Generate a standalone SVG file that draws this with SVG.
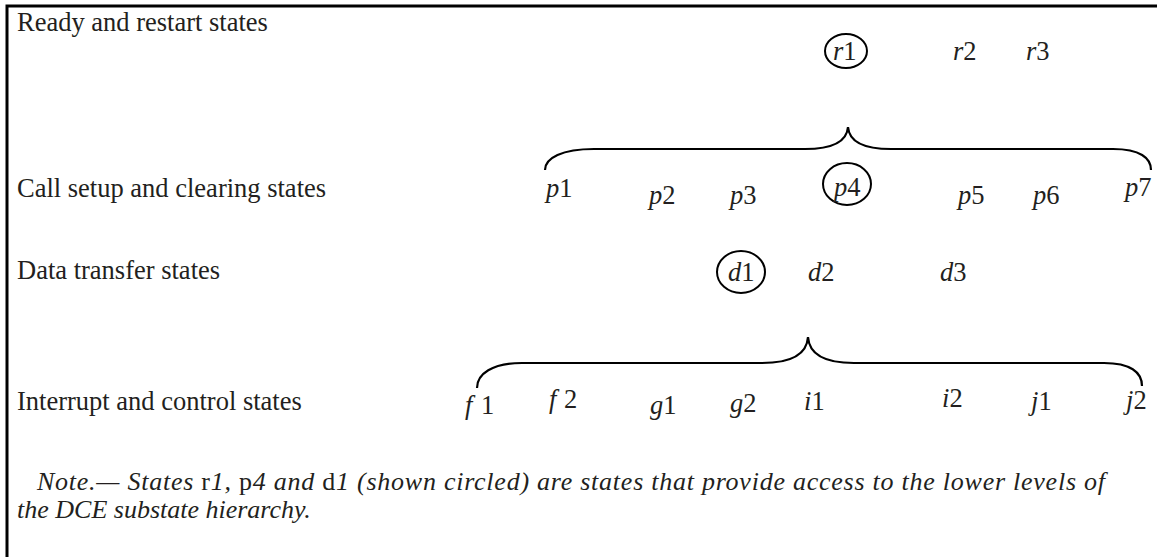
<svg xmlns="http://www.w3.org/2000/svg" width="1157" height="557" viewBox="0 0 1157 557">
<style>
text{font-family:"Liberation Serif","Times New Roman",serif;font-size:26.5px;fill:#231f20}
.i{font-style:italic}
.u{font-style:normal}
.note{font-style:italic;font-size:26px}
.ring{fill:none;stroke:#000;stroke-width:2}
.brace{fill:none;stroke:#000;stroke-width:2.2}
.border{fill:none;stroke:#000;stroke-width:3}
</style>
<rect width="1157" height="557" fill="#fff"/>
<path class="border" d="M7,557 V6 H1157"/>
<g id="row-labels">
<text x="17" y="31">Ready and restart states</text>
<text x="17" y="197">Call setup and clearing states</text>
<text x="17" y="279">Data transfer states</text>
<text x="17" y="410">Interrupt and control states</text>
</g>
<g id="ready-states">
<g id="r1"><ellipse class="ring" cx="846" cy="51" rx="21" ry="17"/><text x="833" y="60"><tspan class="i">r</tspan>1</text></g>
<g id="r2"><text x="953" y="60"><tspan class="i">r</tspan>2</text></g>
<g id="r3"><text x="1026" y="60"><tspan class="i">r</tspan>3</text></g>
</g>
<g id="call-states">
<g id="p1"><text x="546" y="197"><tspan class="i">p</tspan>1</text></g>
<g id="p2"><text x="649" y="204"><tspan class="i">p</tspan>2</text></g>
<g id="p3"><text x="730" y="204"><tspan class="i">p</tspan>3</text></g>
<g id="p4"><ellipse class="ring" cx="847" cy="184" rx="24" ry="21"/><text x="834" y="196"><tspan class="i">p</tspan>4</text></g>
<g id="p5"><text x="958" y="204"><tspan class="i">p</tspan>5</text></g>
<g id="p6"><text x="1033" y="204"><tspan class="i">p</tspan>6</text></g>
<g id="p7"><text x="1125" y="196"><tspan class="i">p</tspan>7</text></g>
</g>
<g id="data-states">
<g id="d1"><ellipse class="ring" cx="741" cy="272" rx="24" ry="21"/><text x="728" y="281"><tspan class="i">d</tspan>1</text></g>
<g id="d2"><text x="808" y="281"><tspan class="i">d</tspan>2</text></g>
<g id="d3"><text x="940" y="281"><tspan class="i">d</tspan>3</text></g>
</g>
<g id="interrupt-states">
<g id="f1"><text y="414"><tspan class="i" x="465">f</tspan><tspan x="481">1</tspan></text></g>
<g id="f2"><text y="408"><tspan class="i" x="549">f</tspan><tspan x="564">2</tspan></text></g>
<g id="g1"><text x="650" y="414"><tspan class="i">g</tspan>1</text></g>
<g id="g2"><text x="730" y="412"><tspan class="i">g</tspan>2</text></g>
<g id="i1"><text x="804" y="410"><tspan class="i">i</tspan>1</text></g>
<g id="i2"><text x="942" y="407"><tspan class="i">i</tspan>2</text></g>
<g id="j1"><text x="1031" y="410"><tspan class="i">j</tspan>1</text></g>
<g id="j2"><text x="1126" y="409"><tspan class="i">j</tspan>2</text></g>
</g>
<g id="connectors">
<path class="brace" d="M545,170 C545,158 562,149 594,149 H805 C835,149 847,140 848,127 C849,140 861,149 891,149 H1113 C1140,149 1151,158 1151,170"/>
<path class="brace" d="M477,388 C477,374 492,363 522,363 H762 C795,363 807,352 808,337 C809,352 821,363 854,363 H1104 C1130,363 1142,372 1142,386"/>
</g>
<g id="note">
<text class="note" x="37" y="490" textLength="1068">Note.— States <tspan class="u">r</tspan>1, <tspan class="u">p</tspan>4 and <tspan class="u">d</tspan>1 (shown circled) are states that provide access to the lower levels of</text>
<text class="note" x="17" y="518">the DCE substate hierarchy.</text>
</g>
</svg>
